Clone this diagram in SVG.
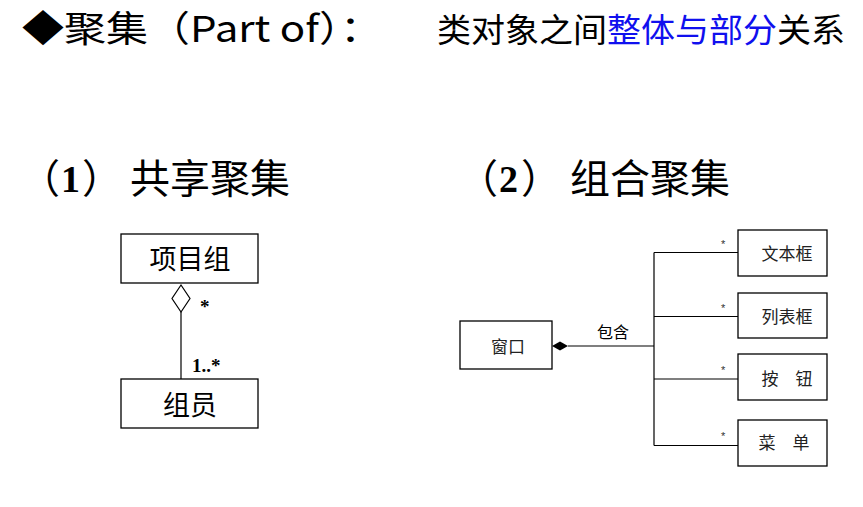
<svg xmlns="http://www.w3.org/2000/svg" width="863" height="507" viewBox="0 0 863 507">
<defs>
<style>
.cjk{font-family:"Noto Sans CJK SC","Noto Sans",sans-serif;fill:#000}
.box{fill:#fff;stroke:#000;stroke-width:1.3}
.ln{fill:none;stroke:#000;stroke-width:1.2}
.lbl{font-family:"Noto Sans CJK SC",sans-serif;font-size:17px;fill:#222;text-anchor:middle;dominant-baseline:central}
.big{font-family:"Noto Sans CJK SC",sans-serif;font-size:27px;fill:#000;text-anchor:middle;dominant-baseline:central}
.mul{font-family:"Liberation Sans",sans-serif;font-size:11px;fill:#333}
.bmul{font-family:"Liberation Serif",serif;font-weight:bold;font-size:19px;fill:#000}
.num{font-family:"Liberation Serif",serif;font-weight:bold;font-size:38px;fill:#000}
</style>
</defs>
<rect width="863" height="507" fill="#fff"/>
<g id="title">
<text class="cjk" x="22" y="42" font-size="36" textLength="360" lengthAdjust="spacingAndGlyphs">◆聚集（Part of）：</text>
<text class="cjk" x="437" y="42" font-size="33" textLength="408" lengthAdjust="spacingAndGlyphs">类对象之间<tspan fill="#1010ee">整体与部分</tspan>关系</text>
</g>
<g id="heading1">
<text class="cjk" x="20" y="193" font-size="40">（</text>
<text class="num" x="61" y="192">1</text>
<text class="cjk" x="82" y="193" font-size="40">）</text>
<text class="cjk" x="130" y="193" font-size="40" textLength="160" lengthAdjust="spacingAndGlyphs">共享聚集</text>
</g>
<g id="heading2">
<text class="cjk" x="458" y="193" font-size="40">（</text>
<text class="num" x="499" y="192">2</text>
<text class="cjk" x="521" y="193" font-size="40">）</text>
<text class="cjk" x="570" y="193" font-size="40" textLength="160" lengthAdjust="spacingAndGlyphs">组合聚集</text>
</g>
<g id="connectors">
<path class="ln" d="M181 312 V379"/>
<polygon points="181,285 190,298.5 181,312 172,298.5" fill="#fff" stroke="#000" stroke-width="1.2"/>
<text x="200" y="313" style="font-family:'Liberation Serif',serif;font-weight:bold;font-size:19px;fill:#000">*</text>
<text class="bmul" x="192" y="372">1..*</text>
<path class="ln" d="M568 346 H654 M654 252.5 V445.5 M654 252.5 H738 M654 316.5 H738 M654 379 H738 M654 445.5 H738"/>
<polygon points="552,346 560,341.5 568,346 560,350.5" fill="#000"/>
<text class="cjk" x="597" y="338" font-size="16">包含</text>
<text class="mul" x="721" y="248">*</text>
<text class="mul" x="721" y="312">*</text>
<text class="mul" x="721" y="374">*</text>
<text class="mul" x="721" y="440">*</text>
</g>
<g id="node-xiangmuzu">
<rect class="box" x="121" y="234" width="137" height="49"/>
<text class="big" x="190" y="257">项目组</text>
</g>
<g id="node-zuyuan">
<rect class="box" x="121" y="379" width="137" height="49"/>
<text class="big" x="190" y="403">组员</text>
</g>
<g id="node-chuangkou">
<rect class="box" x="460" y="321" width="92" height="48"/>
<text class="lbl" x="508" y="345" font-size="16">窗口</text>
</g>
<g id="node-wenbenkuang">
<rect class="box" x="738" y="230" width="89" height="46"/>
<text class="lbl" x="787" y="252">文本框</text>
</g>
<g id="node-liebiaokuang">
<rect class="box" x="738" y="293" width="89" height="45"/>
<text class="lbl" x="787" y="315">列表框</text>
</g>
<g id="node-anniu">
<rect class="box" x="738" y="354" width="89" height="46"/>
<text class="lbl" x="787" y="377">按　钮</text>
</g>
<g id="node-caidan">
<rect class="box" x="738" y="420" width="89" height="46"/>
<text class="lbl" x="784" y="441">菜　单</text>
</g>
</svg>
